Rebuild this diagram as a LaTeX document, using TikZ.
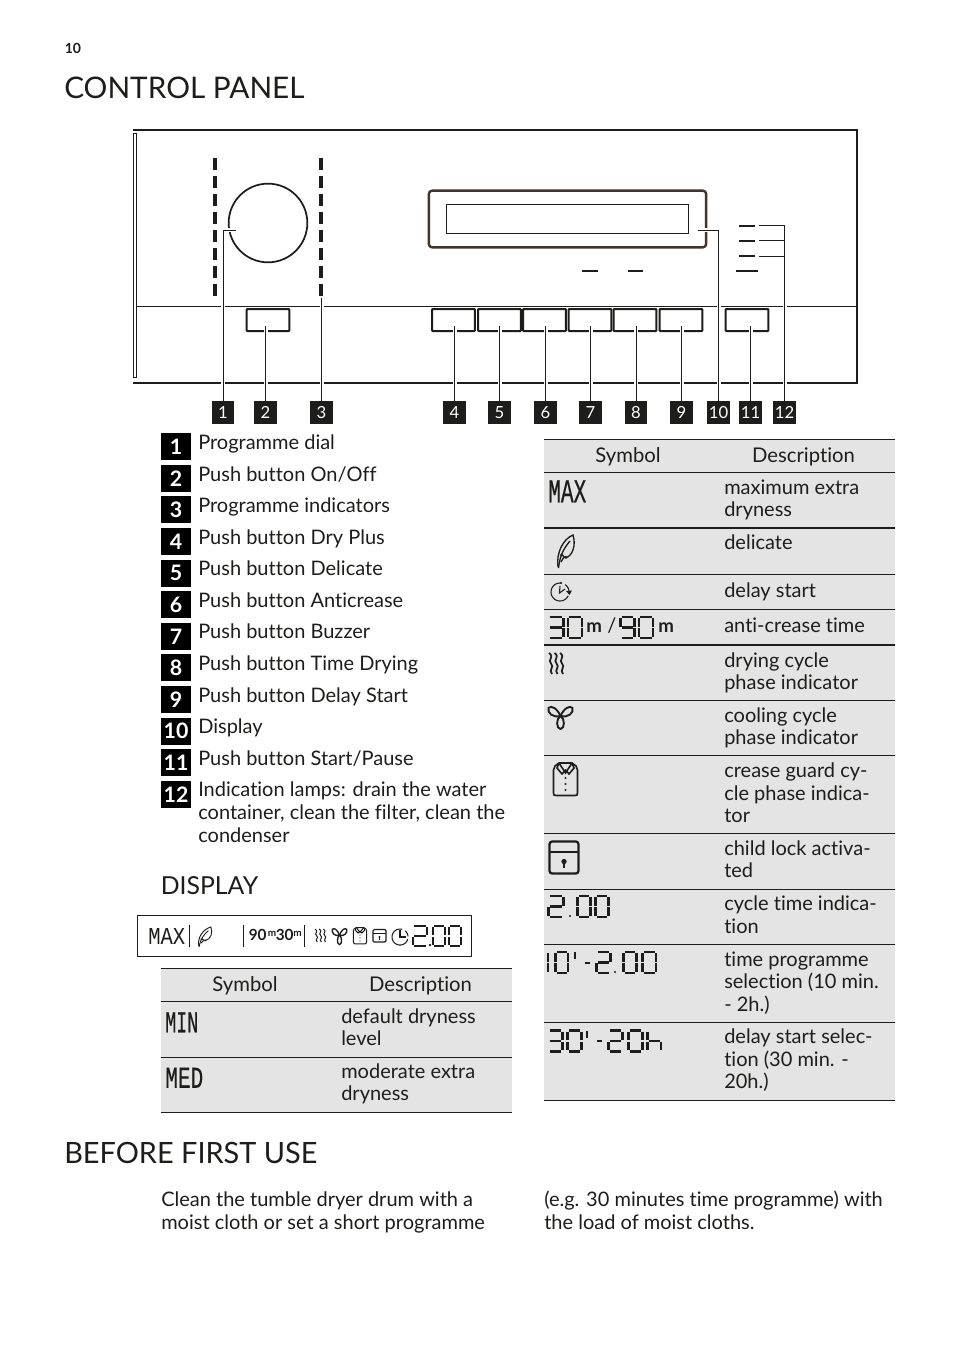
\documentclass[tikz,border=0pt]{standalone}
\usepackage{fontspec}
\usepackage{graphicx}
\setmainfont{Lato}[Ligatures=CommonOff]
\newfontfamily\lcdfont{Liberation Mono}[FakeBold=.5]
\newfontfamily\lcdthin{Liberation Mono}
\usetikzlibrary{calc}
\definecolor{rowgray}{HTML}{E4E4E4}
\definecolor{framebrown}{HTML}{40362C}
\definecolor{ink}{HTML}{1D1D1B}
\tikzset{
  body/.style={font=\fontsize{15}{18}\selectfont,anchor=base west,inner sep=0pt,text=ink},
  headcell/.style={font=\fontsize{15.2}{18}\selectfont,anchor=base,inner sep=0pt,text=ink},
  title/.style={font=\fontsize{22.3}{26}\selectfont,anchor=base west,inner sep=0pt,text=ink},
  subtitle/.style={font=\fontsize{18.6}{22}\selectfont,anchor=base west,inner sep=0pt,text=ink},
  callout/.style={fill=ink,text=white,inner sep=0pt,minimum width=17pt,minimum height=17pt,font=\fontsize{12.5}{14}\selectfont},
  numbox/.style={fill=black,text=white,inner sep=0pt,minimum width=22.5pt,minimum height=20.25pt,font=\fontsize{16}{18}\bfseries\selectfont},
  btn/.style={draw=ink,line width=1.5pt,inner sep=0pt,minimum width=32pt,minimum height=16.5pt,rounded corners=.5pt},
  conn/.style={draw=ink,line width=.75pt,preaction={draw=white,line width=3pt}},
  lamp/.style={draw=ink,line width=2.1pt},
  rowline/.style={draw=ink,line width=.8pt},
  rowthick/.style={draw=ink,line width=1.5pt},
  lcdtext/.style={anchor=north west,inner sep=0pt,text=ink},
  unitm/.style={font=\fontsize{14}{16}\bfseries\selectfont,anchor=base west,inner sep=0pt,text=ink},
  unitmini/.style={font=\fontsize{11.5}{12}\bfseries\selectfont,anchor=base west,inner sep=0pt,text=ink},
  unitsup/.style={font=\fontsize{7.5}{8}\bfseries\selectfont,anchor=base west,inner sep=0pt,text=ink},
}
% seven segment digits in a unit box
\newcommand\sega{\draw (.08,0)--(.92,0);}
\newcommand\segb{\draw (1,.05)--(1,.46);}
\newcommand\segc{\draw (1,.54)--(1,.95);}
\newcommand\segd{\draw (.08,1)--(.92,1);}
\newcommand\sege{\draw (0,.54)--(0,.95);}
\newcommand\segf{\draw (0,.05)--(0,.46);}
\newcommand\segg{\draw (.08,.5)--(.92,.5);}
\newcommand\digzero{\sega\segb\segc\segd\sege\segf}
\newcommand\digone{\segb\segc}
\newcommand\digtwo{\sega\segb\segg\sege\segd}
\newcommand\digthree{\sega\segb\segg\segc\segd}
\newcommand\dignine{\sega\segb\segg\segf\segc\segd}
\newcommand\digh{\segf\sege\segg\segc}
% x y width height glyph linewidth
\newcommand\LCD[6]{\begin{scope}[shift={(#1,#2)},x=#3*.75pt,y=-#4*.75pt,line width=#6pt,draw=ink]#5\end{scope}}
\newcommand\sized[3]{\resizebox{#1\dimexpr.75pt\relax}{#2\dimexpr.75pt\relax}{#3}}
\newcommand\arcp[5]{\draw plot[domain=#4:#5,samples=28,smooth] ({#1+#3*cos(\x)},{#2+#3*sin(\x)});}
% icons in local pixels
\newcommand\feathericon{%
  \draw (1,32) .. controls (-1,18) and (6,4) .. (16,0) .. controls (19,10) and (16,20) .. (9,23) .. controls (10,20) and (6,22) .. (4,27);
  \draw (1.5,33) .. controls (3,20) and (7,13) .. (13,6);
  \draw (3,20) .. controls (5,19) and (6,20) .. (7,22);
}
\newcommand\heaticon{%
  \foreach \q in {0,5.5,11}{
    \draw ($(\q,0)$) .. controls ($(\q+6,4)$) and ($(\q-2,7)$) .. ($(\q+2,10.5)$) .. controls ($(\q+6,14)$) and ($(\q-1,17)$) .. ($(\q+3,21)$);
  }
}
\newcommand\fanicon{%
  \draw (12.5,10) .. controls (8,12) and (8,23) .. (12.5,23) .. controls (17,23) and (17,12) .. (12.5,10);
  \draw (12.5,10) .. controls (9,2) and (3,-1) .. (.5,2) .. controls (-1,7) and (5,12) .. (12.5,10);
  \draw (12.5,10) .. controls (16,2) and (22,-1) .. (24.5,2) .. controls (26,7) and (20,12) .. (12.5,10);
}
\newcommand\shirticon{%
  \draw (2,4) -- (6,1) -- (19,1) -- (23,4) -- (24.5,8) -- (24.5,31) .. controls (24.5,33) and (24,33.5) .. (22,33.5) -- (3,33.5) .. controls (1,33.5) and (.5,33) .. (.5,31) -- (.5,8) -- cycle;
  \draw (6,1) -- (12.5,11) -- (19,1);
  \draw (6,1) -- (4,6) -- (9,12) -- (12.5,8) -- (16,12) -- (21,6) -- (19,1);
  \foreach \q in {16,22,28}{\fill[ink] (12.5,\q) circle[radius=.9pt];}
}
\begin{document}
\begin{tikzpicture}[x=.75pt,y=-.75pt]
\useasboundingbox (0,0) rectangle (954,1352);
\fill[white] (0,0) rectangle (954,1352);

% headings
\node[font=\fontsize{10.5}{12}\bfseries\selectfont,anchor=base west,inner sep=0pt,text=ink] (pagenum) at (64.5,53.5) {10};
\node[title] (h1) at (64,98.5) {CONTROL PANEL};
\node[subtitle] (h2) at (160.5,894) {DISPLAY};
\node[title,font=\fontsize{22}{26}\selectfont] (h3) at (64,1163.5) {\scalebox{.985}[1]{BEFORE FIRST USE}};

% panel
\draw[draw=ink,line width=1.6pt] (133,130) -- (857,130) -- (857,383) -- (133,383);
\draw[draw=ink,line width=.6pt] (133.3,133.3) rectangle (136.3,377.3);
\draw[draw=ink,line width=.7pt] (136.3,306) -- (857,306);
\node[draw=ink,line width=1.3pt,circle,minimum size=59pt,inner sep=0pt] (dial) at (268,223) {};
\foreach \q in {215,321}{
  \draw[draw=ink,line width=3pt,dash pattern=on 9pt off 4.5pt] (\q,157.7) -- (\q,295.5);
}
\node[draw=framebrown,line width=1.8pt,rounded corners=2.5pt,minimum width=208pt,minimum height=42.5pt,inner sep=0pt] (dispframe) at (567.5,219) {};
\node[draw=ink,line width=.7pt,minimum width=181.5pt,minimum height=21.8pt,inner sep=0pt] (dispwin) at (567,218.5) {};
\draw[lamp] (582,271) -- (598,271);
\draw[lamp] (628,271) -- (643,271);
\draw[lamp] (739,226) -- (755,226);
\draw[lamp] (739,241) -- (755,241);
\draw[lamp] (739,256) -- (755,256);
\draw[lamp] (736,271) -- (758,271);
\node[btn] (b2) at (268,320) {};
\node[btn] (b4) at (453.5,320) {};
\node[btn] (b5) at (499.5,320) {};
\node[btn] (b6) at (544.5,320) {};
\node[btn] (b7) at (590,320) {};
\node[btn] (b8) at (635,320) {};
\node[btn] (b9) at (681,320) {};
\node[btn] (b11) at (747,320) {};

% callouts
\foreach \n/\q in {1/223,2/265.5,3/321.5,4/454.5,5/499.5,6/545.5,7/590.5,8/636,9/681.5,10/718.5,11/750.5,12/784.5}{
  \node[callout] (c\n) at (\q,412.5) {\n};
}
\coordinate (t1) at (236,230);
\coordinate (t2) at (265.5,326);
\coordinate (t3) at (321.5,298);
\coordinate (t4) at (454.5,326);
\coordinate (t5) at (499.5,326);
\coordinate (t6) at (545.5,326);
\coordinate (t7) at (590.5,326);
\coordinate (t8) at (636,326);
\coordinate (t9) at (681.5,326);
\coordinate (t10) at (698,230);
\coordinate (t11) at (750.5,326);
\coordinate (t12a) at (759,225.5);
\coordinate (t12b) at (759,240.5);
\coordinate (t12c) at (759,256);
\draw[conn] (c1.north) |- (t1);
\foreach \n in {2,3,4,5,6,7,8,9,11}{\draw[conn] (c\n.north) -- (t\n);}
\draw[conn] (c10.north) |- (t10);
\draw[conn] (c12.north) |- (t12a);
\draw[draw=ink,line width=.75pt] (c12.north |- t12b) -- (t12b);
\draw[draw=ink,line width=.75pt] (c12.north |- t12c) -- (t12c);

% numbered list
\foreach \n/\txt [count=\k from 0] in {1/Programme dial,2/Push button On\slash Off,3/Programme indicators,4/Push button Dry Plus,5/Push button Delicate,6/Push button Anticrease,7/Push button Buzzer,8/Push button Time Drying,9/Push button Delay Start,10/Display,11/Push button Start\slash Pause,12/Indication lamps: drain the water}{
  \node[numbox] (n\n) at (176,446.7+31.6*\k) {\n};
  \node[body] (li\n) at (198,449.5+31.58*\k) {\txt};
}
\node[body] (li12b) at (198,819.5) {container, clean the filter, clean the};
\node[body] (li12c) at (198,842.5) {condenser};

% display strip
\draw[draw=ink,line width=.7pt] (137,957) -- (137,915.5) -- (471.5,915.5) -- (471.5,957);
\draw[draw=ink,line width=1.4pt] (136.5,956.5) -- (472,956.5);
\node[lcdtext] (smax) at (148,928) {\sized{37}{16}{\lcdthin MAX}};
\draw[draw=ink,line width=.7pt] (189,925) -- (189,947);
\begin{scope}[shift={(198,927)},xscale=.8,yscale=.6,draw=ink,line width=.7pt]\feathericon\end{scope}
\draw[draw=ink,line width=.7pt] (243,925) -- (243,947);
\node[unitmini] (s90) at (248.5,940.5) {90};
\node[unitsup] (s90m) at (267.5,936.5) {m};
\node[unitmini] (s30) at (275.5,940.5) {30};
\node[unitsup] (s30m) at (293,936.5) {m};
\draw[draw=ink,line width=.7pt] (304,925) -- (304,947);
\begin{scope}[shift={(315,929)},xscale=.75,yscale=.62,draw=ink,line width=.75pt]\heaticon\end{scope}
\begin{scope}[shift={(332,928)},xscale=.6,yscale=.72,draw=ink,line width=1pt]\fanicon\end{scope}
\begin{scope}[shift={(353,927)},xscale=.56,yscale=.5,draw=ink,line width=.75pt]\shirticon\end{scope}
\draw[draw=ink,line width=.9pt,rounded corners=1pt] (373,929.5) rectangle (386,942);
\draw[draw=ink,line width=.7pt] (373,933.5) -- (386,933.5);
\draw[draw=ink,line width=.6pt] (379.5,936.5) -- (379.5,940);
\fill[ink] (379.5,937) circle[radius=.9pt];
\begin{scope}[draw=ink,line width=.8pt]
\arcp{400}{937}{8}{15}{285}
\arcp{400}{937}{8}{-50}{-5}
\draw (400,930) -- (400,937) -- (406,937);
\end{scope}
\LCD{413}{926}{14}{20}{\digtwo}{1.7}
\fill[ink] (430,945) circle[radius=1pt];
\LCD{433}{926}{12}{20}{\digzero}{1.7}
\LCD{449}{926}{12}{20}{\digzero}{1.7}

% left table
\fill[rowgray] (161,968) rectangle (512,1112);
\draw[rowline] (161,968.5) -- (512,968.5);
\draw[rowline] (161,1001.5) -- (512,1001.5);
\draw[rowline] (161,1057.5) -- (512,1057.5);
\draw[rowline] (161,1112.5) -- (512,1112.5);
\node[headcell] (lh1) at (245,991) {Symbol};
\node[headcell] (lh2) at (420.5,991) {Description};
\node[lcdtext] (lmin) at (165,1012) {\sized{33}{20}{\lcdfont MIN}};
\node[lcdtext] (lmed) at (165,1067.5) {\sized{38}{20}{\lcdfont MED}};
\node[body] (lt1) at (341,1023) {default dryness};
\node[body] (lt2) at (341,1045.5) {level};
\node[body] (lt3) at (341,1078) {moderate extra};
\node[body] (lt4) at (341,1100.5) {dryness};

% right table
\fill[rowgray] (544,439) rectangle (895,1100.5);
\foreach \q in {439.5,472.5,574.5,609.5,700.5,755.5,833.5,889.5,944.5,1022.5,1100.5}{\draw[rowline] (544,\q) -- (895,\q);}
\foreach \q in {528,645}{\draw[rowthick] (544,\q) -- (895,\q);}
\node[headcell] (rh1) at (628,462) {Symbol};
\node[headcell] (rh2) at (803.5,462) {Description};
\node[lcdtext] (rmax) at (548,480) {\sized{38}{22}{\lcdfont MAX}};
\begin{scope}[shift={(557,535)},draw=ink,line width=1pt]\feathericon\end{scope}
\begin{scope}[draw=ink,line width=.8pt]
\arcp{560}{592}{9}{25}{280}
\arcp{560}{592}{9}{-55}{10}
\draw (560,586) -- (559.5,593) -- (565,589);
\fill[ink] (569.5,595) -- (566,591) -- (572,590.5) -- cycle;
\fill[ink] (561,583) circle[radius=.8pt];
\end{scope}
\LCD{548.5}{617}{15}{21}{\digthree}{1.7}
\LCD{568}{617}{14}{21}{\digzero}{1.7}
\node[unitm] (m1) at (586,632.5) {m};
\node[body] (slash) at (607,632) {/};
\LCD{620.5}{617}{14}{21}{\dignine}{1.7}
\LCD{639}{617}{14}{21}{\digzero}{1.7}
\node[unitm] (m2) at (658,632.5) {m};
\begin{scope}[shift={(549,653)},draw=ink,line width=1.3pt]\heaticon\end{scope}
\begin{scope}[shift={(548,706)},draw=ink,line width=1.4pt]\fanicon\end{scope}
\begin{scope}[shift={(553,762)},draw=ink,line width=1.2pt]\shirticon\end{scope}
\draw[draw=ink,line width=1.7pt,rounded corners=2pt] (549.5,841.5) rectangle (578.5,873.5);
\draw[draw=ink,line width=1.2pt] (549.5,852) -- (578.5,852);
\fill[ink] (564,861.5) circle[radius=2pt];
\draw[draw=ink,line width=1.2pt] (564,862) -- (564,868);
\LCD{548.5}{896}{15}{21}{\digtwo}{1.7}
\fill[ink] (570,916) circle[radius=.9pt];
\LCD{577.5}{896}{13}{21}{\digzero}{1.7}
\LCD{595.5}{896}{13}{21}{\digzero}{1.7}
\LCD{548}{952}{0}{21}{\digone}{1.7}
\LCD{555.5}{952}{12.5}{21}{\digzero}{1.7}
\draw[draw=ink,line width=2pt] (575,952) -- (575,959);
\draw[draw=ink,line width=1pt] (585,963) -- (590,963);
\LCD{596.5}{952}{14}{21}{\digtwo}{1.7}
\fill[ink] (615,972) circle[radius=.9pt];
\LCD{623.5}{952}{13}{21}{\digzero}{1.7}
\LCD{642.5}{952}{13.5}{21}{\digzero}{1.7}
\LCD{548.5}{1030.5}{14}{21}{\digthree}{1.7}
\LCD{567.5}{1030.5}{14}{21}{\digzero}{1.7}
\draw[draw=ink,line width=2pt] (587,1030.5) -- (587,1037.5);
\draw[draw=ink,line width=1pt] (597,1041) -- (601.5,1041);
\LCD{608.5}{1030.5}{14}{21}{\digtwo}{1.7}
\LCD{628.5}{1030.5}{14}{21}{\digzero}{1.7}
\LCD{647.5}{1030.5}{13.5}{21}{\digh}{1.7}
\foreach \nm/\q/\txt in {a/494.5/maximum extra,b/516.5/dryness,c/549/delicate,d/597/delay start,e/632/anti-crease time,f/667.5/drying cycle,g/689.5/phase indicator,h/722.5/cooling cycle,i/744.5/phase indicator,j/777.5/crease guard cy-,k/800/cle phase indica-,l/822.5/tor,m/855/child lock activa-,n/877.5/ted,o/910.5/cycle time indica-,p/933/tion,q/966/time programme,r/988.5/selection (10 min.,s/1011/- 2h.),t/1043.5/delay start selec-,u/1066/tion (30 min. -,v/1088.5/20h.)}{
  \node[body] (rt\nm) at (724,\q) {\txt};
}

% paragraphs
\node[body] (p1) at (161,1206.5) {Clean the tumble dryer drum with a};
\node[body] (p2) at (161,1229) {moist cloth or set a short programme};
\node[body] (p3) at (544,1206.5) {(e.g. 30 minutes time programme) with};
\node[body] (p4) at (544,1229) {the load of moist cloths.};
\end{tikzpicture}
\end{document}
